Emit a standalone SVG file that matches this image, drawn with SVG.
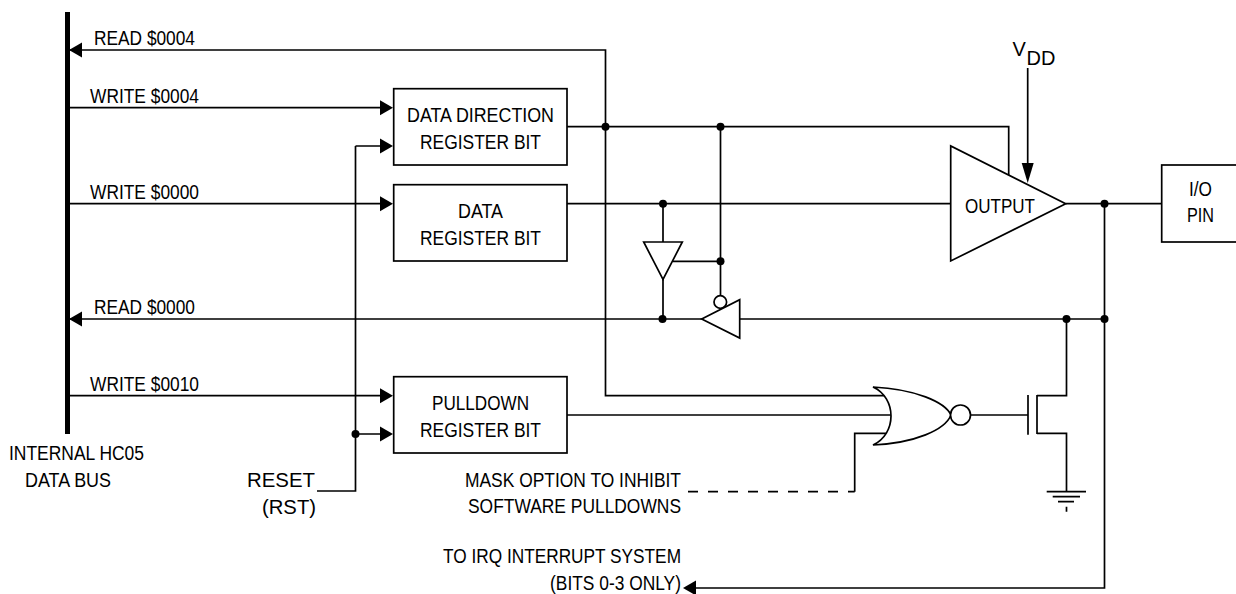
<svg xmlns="http://www.w3.org/2000/svg" width="1236" height="594" viewBox="0 0 1236 594">
<style>
text{font-family:"Liberation Sans",Arial,sans-serif;font-size:19.5px;fill:#000}
.b{font-size:20px}
.w{fill:none;stroke:#000;stroke-width:1.7}
.g{fill:#fff;stroke:#000;stroke-width:1.7}
.d{fill:#000}
</style>
<defs>
<polygon id="ar" class="d" points="0,0 -13,-7.500 -13,7.500"/>
<polygon id="al" class="d" points="0,0 13,-7.500 13,7.500"/>
<circle id="dot" class="d" r="4"/>
</defs>
<g id="connectors">
<path class="w" d="M69 50H605.500V395.700H885"/>
<path class="w" d="M69 107.700H382M69 203.700H382M69 319H702M69 395.700H382"/>
<path class="w" d="M567 126.700H1008.700V176M720.500 126.700V296"/>
<path class="w" d="M567 203.700H951M663 203.700V242M663 279V319M673 261.300H720.500"/>
<path class="w" d="M739.700 319H1104.500M1065.700 203.700H1162M1104.500 203.700V588H696"/>
<path class="w" d="M1066.500 319V395.700H1037M1037 433.300H1066.500V491.700"/>
<path class="w" d="M355.500 146H382M355.500 146V491H317M355.500 434H382"/>
<path class="w" d="M567 415H893"/>
<path class="w" d="M854.700 491.700V433.300H888"/>
<path class="w" stroke-dasharray="10 10" d="M688 491.700H854.700"/>
<path class="w" d="M970 415H1028"/>
<path class="w" d="M1027.700 68V170"/>
<use href="#ar" x="393" y="107.700"/><use href="#ar" x="393" y="146"/><use href="#ar" x="393" y="203.700"/><use href="#ar" x="393" y="395.700"/><use href="#ar" x="393" y="434"/>
<use href="#al" x="69" y="50"/><use href="#al" x="69" y="319"/><use href="#al" x="683" y="588"/>
<use href="#dot" x="605.500" y="126.700"/><use href="#dot" x="720.500" y="126.700"/><use href="#dot" x="663" y="203.700"/><use href="#dot" x="720.500" y="261.300"/><use href="#dot" x="662.500" y="319"/><use href="#dot" x="1066.500" y="319"/><use href="#dot" x="1104.500" y="319"/><use href="#dot" x="1104.500" y="203.700"/><use href="#dot" x="355.500" y="434"/>
</g>
<g id="data-bus"><rect x="65" y="12" width="5" height="422" fill="#000"/>
<text x="9" y="460" textLength="135" lengthAdjust="spacingAndGlyphs">INTERNAL HC05</text><text x="25" y="487" textLength="86" lengthAdjust="spacingAndGlyphs">DATA BUS</text></g>
<g id="bus-labels">
<text x="94" y="45" textLength="101" lengthAdjust="spacingAndGlyphs">READ $0004</text>
<text x="90" y="103" textLength="109" lengthAdjust="spacingAndGlyphs">WRITE $0004</text>
<text x="90" y="199" textLength="109" lengthAdjust="spacingAndGlyphs">WRITE $0000</text>
<text x="94" y="314" textLength="101" lengthAdjust="spacingAndGlyphs">READ $0000</text>
<text x="90" y="391" textLength="109" lengthAdjust="spacingAndGlyphs">WRITE $0010</text>
</g>
<g id="ddr"><rect class="g" x="393.700" y="88.700" width="173.300" height="76.300"/><text x="407" y="122" textLength="147" lengthAdjust="spacingAndGlyphs">DATA DIRECTION</text><text x="420" y="149" textLength="121" lengthAdjust="spacingAndGlyphs">REGISTER BIT</text></g>
<g id="dr"><rect class="g" x="393.700" y="184.700" width="173.300" height="76.300"/><text x="458" y="218" textLength="45" lengthAdjust="spacingAndGlyphs">DATA</text><text x="420" y="245" textLength="121" lengthAdjust="spacingAndGlyphs">REGISTER BIT</text></g>
<g id="pdr"><rect class="g" x="393.700" y="376.700" width="173.300" height="76.300"/><text x="432" y="410" textLength="97" lengthAdjust="spacingAndGlyphs">PULLDOWN</text><text x="420" y="437" textLength="121" lengthAdjust="spacingAndGlyphs">REGISTER BIT</text></g>
<g id="output"><polygon class="g" points="950.700,146 950.700,261 1065.700,203.700"/><text x="965" y="213" textLength="70" lengthAdjust="spacingAndGlyphs">OUTPUT</text><polygon class="d" points="1027.700,183 1021.700,163 1033.700,163"/></g>
<g id="vdd"><text class="b" x="1012.500" y="56">V</text><text class="b" x="1026.500" y="65">DD</text></g>
<g id="pin"><rect class="g" x="1161.700" y="165" width="80" height="77"/><text x="1189" y="196" textLength="23" lengthAdjust="spacingAndGlyphs">I/O</text><text x="1187" y="222" textLength="27" lengthAdjust="spacingAndGlyphs">PIN</text></g>
<g id="buf1"><polygon class="g" points="643.700,242 682.300,242 663,279.500"/></g>
<g id="buf2"><circle class="g" cx="720.300" cy="302" r="6.300"/><polygon class="g" points="701.700,319 739.700,299.700 739.700,338"/></g>
<g id="nor"><path class="g" d="M873 387C915 389 945 402 951 415C945 430 915 443 873 445C897 434 897 398 873 387Z"/><circle class="g" cx="960.500" cy="415" r="10"/></g>
<g id="fet"><path class="w" d="M1028 395V434.700M1037 395V434"/></g>
<g id="ground"><path class="w" d="M1046.700 491.700H1086M1052.700 496.700H1080M1058 501.700H1074M1066.500 506.700V511.700"/></g>
<g id="reset"><text class="b" x="247" y="487" textLength="68" lengthAdjust="spacingAndGlyphs">RESET</text><text class="b" x="262" y="514" textLength="54" lengthAdjust="spacingAndGlyphs">(RST)</text></g>
<g id="mask"><text x="465" y="487" textLength="216" lengthAdjust="spacingAndGlyphs">MASK OPTION TO INHIBIT</text><text x="468" y="513" textLength="213" lengthAdjust="spacingAndGlyphs">SOFTWARE PULLDOWNS</text></g>
<g id="irq"><text x="443" y="563" textLength="238" lengthAdjust="spacingAndGlyphs">TO IRQ INTERRUPT SYSTEM</text><text x="550" y="590" textLength="131" lengthAdjust="spacingAndGlyphs">(BITS 0-3 ONLY)</text></g>
</svg>
